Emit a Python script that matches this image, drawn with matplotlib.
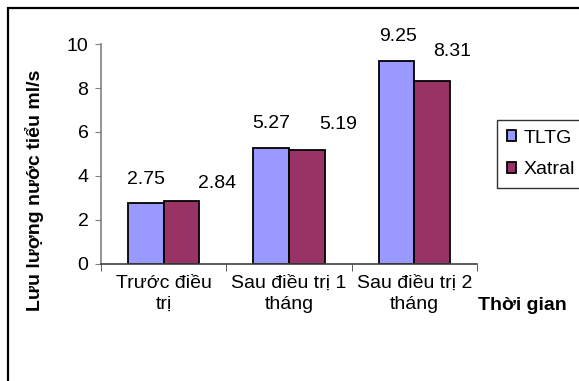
import numpy as np
import matplotlib
matplotlib.use("Agg")
import matplotlib.pyplot as plt
from matplotlib.patches import Rectangle

# du lieu doc tu hinh
nhom = ["Trước điều\ntrị", "Sau điều trị 1\ntháng", "Sau điều trị 2\ntháng"]
tltg = [2.75, 5.27, 9.25]
xatral = [2.84, 5.19, 8.31]
ten_chuoi = ["TLTG", "Xatral"]

# vi tri nhan (pixel) - chi la kieu trinh bay
dx_tltg = [0, 0, 2]
dy_tltg = [24, 24, 24]
dx_xatral = [36, 31, 20]
dy_xatral = [18, 25, 30]

plt.rcParams['font.family'] = ['Liberation Sans', 'DejaVu Sans']
fs = 14

fig = plt.figure(figsize=(5.79, 3.81), dpi=100)
W, H = 579, 381
ax = fig.add_axes([101 / W, 1 - 263.5 / H, 376 / W, (263.5 - 44.3) / H])

x = np.arange(len(nhom))
w = 0.285
b1 = ax.bar(x - w / 2, tltg, w, color="#9999FF", edgecolor="black", linewidth=1.3, label=ten_chuoi[0])
b2 = ax.bar(x + w / 2, xatral, w, color="#993366", edgecolor="black", linewidth=1.3, label=ten_chuoi[1])

for i in range(len(nhom)):
    ax.annotate("{:.2f}".format(tltg[i]), (x[i] - w / 2, tltg[i]), xytext=(dx_tltg[i], dy_tltg[i]),
                textcoords="offset pixels", ha="center", va="center", fontsize=fs)
    ax.annotate("{:.2f}".format(xatral[i]), (x[i] + w / 2, xatral[i]), xytext=(dx_xatral[i], dy_xatral[i]),
                textcoords="offset pixels", ha="center", va="center", fontsize=fs)

ax.set_xlim(-0.5, len(nhom) - 0.5)
ax.set_ylim(0, 10)
ax.set_yticks(range(0, 11, 2))
ax.set_xticks(x)
ax.set_xticklabels(nhom, fontsize=fs, linespacing=1.35)
ax.set_xticks(np.arange(-0.5, len(nhom), 1), minor=True)
ax.tick_params(axis="x", which="major", length=0, pad=8)
ax.tick_params(axis="x", which="minor", length=5, direction="out", color="#404040")
ax.tick_params(axis="y", length=4, direction="out", color="#808080", labelsize=fs, pad=5)

for s in ["top", "right"]:
    ax.spines[s].set_visible(False)
ax.spines["left"].set_color("#808080")
ax.spines["bottom"].set_color("#404040")
ax.spines["left"].set_linewidth(1.2)
ax.spines["bottom"].set_linewidth(1.2)

ax.set_ylabel("Lưu lượng nước tiểu ml/s", fontsize=fs, fontweight="bold")
ax.yaxis.set_label_coords(44 / W, 0.5, transform=fig.transFigure)
fig.text(522 / W, 1 - 305 / H, "Thời gian", fontsize=fs, fontweight="bold", ha="center", va="center")

leg = fig.legend(handles=[b1, b2], loc="upper left", bbox_to_anchor=(497 / W, 1 - 120 / H),
                 frameon=True, fancybox=False, fontsize=fs, handlelength=0.5, handleheight=0.5,
                 handletextpad=0.35, borderpad=0.5, labelspacing=0.75, borderaxespad=0)
leg.get_frame().set_edgecolor("black")
leg.get_frame().set_linewidth(1.0)

# khung ngoai
fig.patches.append(Rectangle((8 / W, -0.1), 1.0, 1 - 8 / H + 0.1, transform=fig.transFigure,
                             fill=False, edgecolor="black", linewidth=1.6))

fig.savefig("out.png", dpi=100)
